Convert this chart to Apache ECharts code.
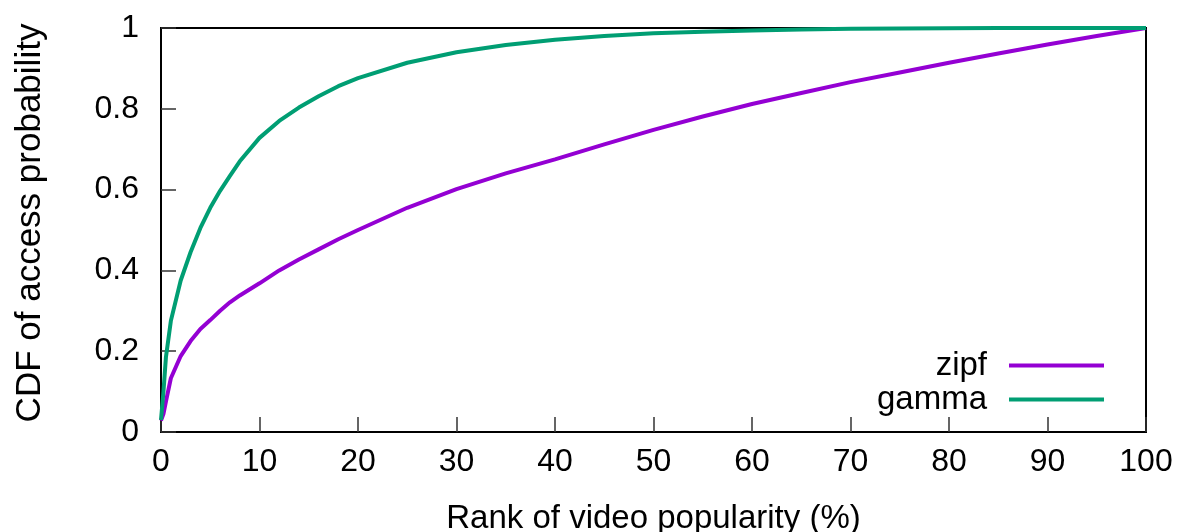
<!DOCTYPE html>
<html>
<head>
<meta charset="utf-8">
<script src="https://cdn.jsdelivr.net/npm/echarts@6/dist/echarts.min.js"></script>
<style>
  html, body { margin: 0; padding: 0; background: #fff; }
  #chart { width: 1181px; height: 532px; }
</style>
</head>
<body>
<div id="chart"></div>
<script>
// rank of video popularity (%)
var rank = [0, 0.25, 0.5, 1, 2, 3, 4, 5, 6, 7, 8, 10, 12, 14, 16, 18, 20, 25, 30, 35, 40, 45, 50, 55, 60, 65, 70, 75, 80, 85, 90, 95, 100]
// CDF
var zipf = [0.028, 0.045, 0.075, 0.133, 0.188, 0.225, 0.255, 0.277, 0.3, 0.321, 0.338, 0.368, 0.4, 0.427, 0.452, 0.477, 0.5, 0.555, 0.601, 0.64, 0.675, 0.712, 0.748, 0.781, 0.812, 0.839, 0.866, 0.89, 0.914, 0.937, 0.959, 0.98, 1.0]
var gamma = [0.03, 0.1, 0.185, 0.275, 0.375, 0.445, 0.505, 0.555, 0.597, 0.634, 0.67, 0.728, 0.77, 0.803, 0.831, 0.856, 0.876, 0.914, 0.94, 0.958, 0.971, 0.98, 0.987, 0.991, 0.994, 0.996, 0.998, 0.999, 0.9995, 1.0, 1.0, 1.0, 1.0]
var xTicks = [0, 10, 20, 30, 40, 50, 60, 70, 80, 90, 100]
var yTicks = [0, 0.2, 0.4, 0.6, 0.8, 1]

function pairs (xs, ys) {
  var out = []
  xs.forEach(function (x, i) { out.push([x, ys[i]]) })
  return out
}

var font = 'Liberation Sans, Arial, sans-serif'
var chart = echarts.init(document.getElementById('chart'))
var option = {
  animation: false,
  grid: {
    left: 161,
    right: 35,
    top: 28,
    bottom: 100,
    outerBoundsMode: 'none',
    show: true,
    borderColor: '#000',
    borderWidth: 2
  },
  legend: {
    orient: 'vertical',
    right: 77,
    top: 349,
    padding: 0,
    align: 'right',
    itemWidth: 95,
    itemHeight: 4,
    itemGap: 1,
    icon: 'rect',
    data: ['zipf', 'gamma'],
    textStyle: { fontFamily: font, fontSize: 33, color: '#000', padding: [0, 17, 0, 0] }
  },
  xAxis: {
    type: 'value',
    min: 0,
    max: 100,
    interval: 10,
    name: 'Rank of video popularity (%)',
    nameLocation: 'middle',
    nameGap: 70,
    nameTextStyle: { fontFamily: font, fontSize: 33, color: '#000' },
    axisLine: { show: false },
    axisTick: { show: true, inside: true, length: 15, lineStyle: { color: '#333', width: 1.5 } },
    axisLabel: {
      margin: 14,
      fontFamily: font,
      fontSize: 32,
      color: '#000',
      customValues: xTicks
    },
    splitLine: { show: false }
  },
  yAxis: {
    type: 'value',
    min: 0,
    max: 1,
    interval: 0.2,
    name: 'CDF of access probability',
    nameLocation: 'middle',
    nameRotate: 90,
    nameGap: 113,
    nameTextStyle: { fontFamily: font, fontSize: 35, color: '#000', padding: [0, 0, 0, 14] },
    axisLine: { show: false },
    axisTick: { show: true, inside: true, length: 15, lineStyle: { color: '#333', width: 1.5 } },
    axisLabel: {
      margin: 22,
      fontFamily: font,
      fontSize: 32,
      color: '#000',
      verticalAlignMinLabel: 'middle',
      verticalAlignMaxLabel: 'middle',
      customValues: yTicks
    },
    splitLine: { show: false }
  },
  series: [
    {
      name: 'zipf',
      type: 'line',
      data: pairs(rank, zipf),
      showSymbol: false,
      lineStyle: { color: '#9400d3', width: 4 },
      itemStyle: { color: '#9400d3' }
    },
    {
      name: 'gamma',
      type: 'line',
      data: pairs(rank, gamma),
      showSymbol: false,
      lineStyle: { color: '#009e73', width: 4 },
      itemStyle: { color: '#009e73' }
    }
  ]
}
chart.setOption(option)
</script>
</body>
</html>
